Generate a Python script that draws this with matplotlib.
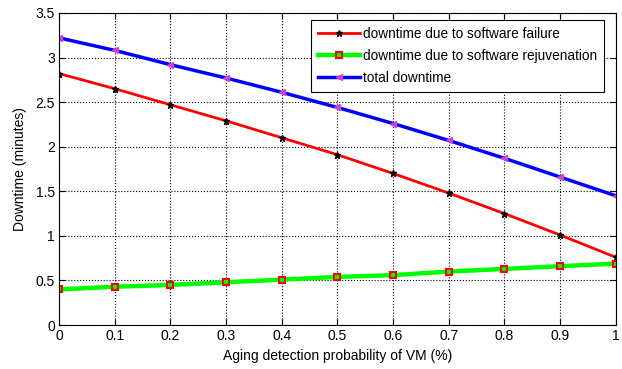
import numpy as np
import matplotlib.pyplot as plt

plt.rcParams['font.family'] = ['Liberation Sans', 'DejaVu Sans']

# aging detection probability
p = [0, 0.1, 0.2, 0.3, 0.4, 0.5, 0.6, 0.7, 0.8, 0.9, 1.0]
failure = [2.82, 2.65, 2.47, 2.29, 2.10, 1.91, 1.70, 1.48, 1.25, 1.01, 0.76]
rejuvenation = [0.40, 0.43, 0.45, 0.48, 0.51, 0.54, 0.56, 0.60, 0.63, 0.66, 0.69]
total = [3.22, 3.08, 2.92, 2.77, 2.61, 2.44, 2.26, 2.07, 1.87, 1.66, 1.45]

fig = plt.figure(figsize=(6.22, 3.69), dpi=100)
ax = fig.add_axes([0.095, 0.119, 0.895, 0.846])

ax.plot(p, failure, color='red', lw=2.0, marker='*', ms=5, mfc='black', mec='black',
        label='downtime due to software failure')
ax.plot(p, rejuvenation, color='#00ff00', lw=3.2, marker='s', ms=5, mfc='#00ff00', mec='red', mew=1.5,
        label='downtime due to software rejuvenation')
ax.plot(p, total, color='blue', lw=2.5, marker='<', ms=5, mfc='#cc44cc', mec='#cc44cc',
        label='total downtime')

ax.set_xlim(0, 1)
ax.set_ylim(0, 3.5)
ax.set_xticks(np.arange(0, 1.01, 0.1))
ax.set_xticklabels(['0', '0.1', '0.2', '0.3', '0.4', '0.5', '0.6', '0.7', '0.8', '0.9', '1'])
ax.set_yticks(np.arange(0, 3.51, 0.5))
ax.set_yticklabels(['0', '0.5', '1', '1.5', '2', '2.5', '3', '3.5'])
ax.tick_params(direction='in', top=True, right=True, labelsize=10, length=4, pad=3)
ax.grid(True, color='black', linestyle=':', linewidth=0.8)
ax.set_xlabel('Aging detection probability of VM (%)', fontsize=10, labelpad=4)
ax.set_ylabel('Downtime (minutes)', fontsize=10, labelpad=6)

leg = ax.legend(loc='upper right', bbox_to_anchor=(0.978, 0.978), borderaxespad=0,
                fontsize=9.8, fancybox=False, framealpha=1, edgecolor='black',
                handlelength=3.1, labelspacing=0.6, handletextpad=0.2, borderpad=0.5)
leg.get_frame().set_linewidth(0.8)

fig.savefig('out.png', dpi=100)
